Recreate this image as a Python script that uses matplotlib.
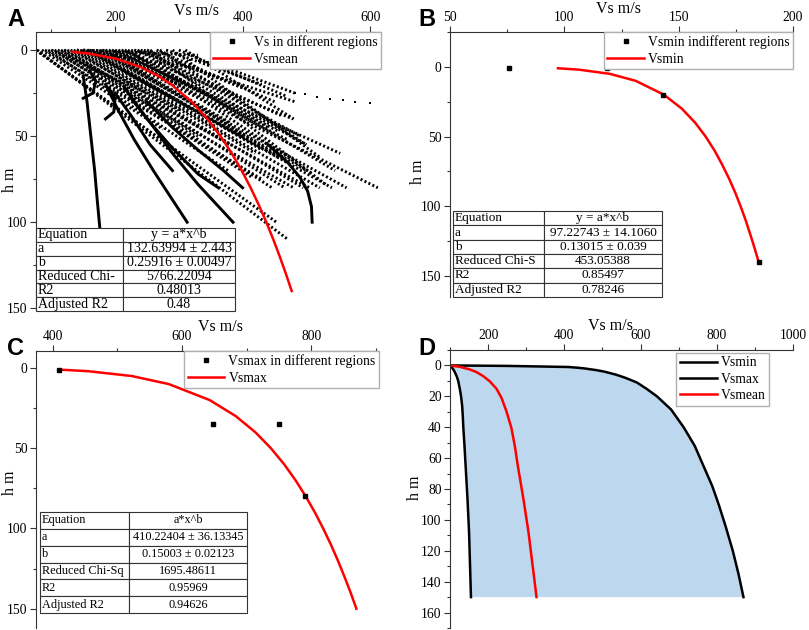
import matplotlib
matplotlib.use('Agg')
import matplotlib.pyplot as plt
from matplotlib.ticker import MultipleLocator
from matplotlib.lines import Line2D

# ---------------- data ----------------
# Panel A: Vs profiles in different regions (dotted profiles)
A_dot_v = [
    [76, 302], [76, 453], [78, 471], [85, 275], [95, 377], [105, 415],
    [115, 446], [125, 466], [135, 495], [145, 521], [155, 540], [170, 563],
    [180, 612], [195, 553], [210, 479], [230, 482], [120, 380], [140, 420],
    [160, 455], [175, 500], [190, 470], [205, 440], [220, 510], [240, 460],
    [255, 530], [270, 500], [150, 330], [130, 300], [100, 250], [140, 320],
    [357, 482], [150, 400], [165, 430], [185, 470], [200, 420], [215, 455],
    [235, 500], [250, 400], [265, 450], [280, 430], [300, 470], [160, 360],
    [180, 380], [120, 330], [200, 300], [290, 520], [310, 480],
    [100, 480], [110, 505], [90, 430], [225, 545], [245, 490]]
A_dot_h = [
    [0, 60], [0, 100], [0, 110], [0, 46], [0, 70], [0, 74],
    [0, 80], [0, 80], [0, 80], [0, 80], [0, 80], [0, 80],
    [0, 80], [0, 60], [0, 40], [0, 30], [0, 55], [0, 60],
    [0, 62], [0, 70], [0, 52], [0, 45], [0, 72], [0, 38],
    [0, 78], [0, 55], [0, 3], [0, 35], [0, 25], [0, 10],
    [8, 25], [0, 50], [0, 58], [0, 65], [0, 40], [0, 47],
    [0, 55], [0, 22], [0, 30], [0, 20], [0, 27], [0, 45],
    [0, 42], [0, 50], [2, 20], [0, 62], [0, 40],
    [0, 80], [0, 80], [0, 75], [0, 70], [0, 50]]
# sparse dotted series
A_sparse_v = [318, 331, 344, 357, 482, 498, 517, 537, 557, 576, 600]
A_sparse_h = [5.8, 6.5, 7.2, 8, 25, 25.6, 27.3, 28.5, 29, 30, 31]
# dense profiles that look like solid curves
A_sol_v = [[150, 156, 162, 168, 172, 176], [185, 205, 230, 260, 290, 313],
           [225, 255, 290, 330, 360, 385], [200, 225, 255, 290], [215, 250, 290, 330, 362],
           [440, 470, 490, 502, 508, 509], [250, 290, 330, 370, 400],
           [160, 170, 165, 150], [190, 200, 198, 185]]
A_sol_h = [[15, 30, 50, 70, 87, 103], [20, 35, 52, 70, 87, 100],
           [28, 42, 60, 78, 90, 100], [25, 38, 55, 70], [22, 40, 57, 72, 80],
           [55, 65, 74, 82, 91, 100], [30, 45, 58, 70, 80],
           [12, 18, 25, 28], [22, 28, 36, 40]]
# Vsmean fit
A_mean_h = [1, 2, 5, 10, 15, 20, 30, 40, 50, 60, 70, 80, 90, 100, 110, 120, 130, 140]
A_mean_v = [132.6, 158.7, 201.2, 240.8, 267.5, 288.2, 320.1, 344.8, 365.3, 383.0,
            398.6, 412.6, 425.4, 437.2, 448.1, 458.3, 467.9, 477.0]
A_table = [["Equation", "y = a*x^b"], ["a", "132.63994 ± 2.443"],
           ["b", "0.25916 ± 0.00497"], ["Reduced Chi-", "5766.22094"],
           ["R2", "0.48013"], ["Adjusted R2", "0.48"]]

# Panel B: Vsmin
B_pts_v = [76, 118.6, 143, 185]
B_pts_h = [1, 1, 20, 140]
B_fit_h = [1, 2, 5, 10, 20, 30, 40, 50, 60, 70, 80, 90, 100, 110, 120, 130, 140]
B_fit_v = [97.2, 106.4, 119.9, 131.2, 143.6, 151.4, 157.2, 161.8, 165.7, 169.0,
           172.0, 174.7, 177.1, 179.3, 181.3, 183.2, 185.0]
B_table = [["Equation", "y = a*x^b"], ["a", "97.22743 ± 14.1060"],
           ["b", "0.13015 ± 0.039"], ["Reduced Chi-S", "453.05388"],
           ["R2", "0.85497"], ["Adjusted R2", "0.78246"]]

# Panel C: Vsmax
C_pts_v = [410, 648, 750, 791]
C_pts_h = [1, 35, 35, 80]
C_fit_h = [1, 2, 5, 10, 20, 30, 40, 50, 60, 70, 80, 90, 100, 110, 120, 130, 140, 150]
C_fit_v = [410.2, 455.2, 522.3, 579.5, 643.0, 683.3, 713.5, 737.7, 758.2, 775.9,
           791.6, 805.8, 818.6, 830.5, 841.4, 851.5, 861.1, 870.0]
C_table = [["Equation", "a*x^b"], ["a", "410.22404 ± 36.13345"],
           ["b", "0.15003 ± 0.02123"], ["Reduced Chi-Sq", "1695.48611"],
           ["R2", "0.95969"], ["Adjusted R2", "0.94626"]]

# Panel D: envelope
D_min_h = [0, 1, 2.6, 4, 6.9, 10, 15.5, 20, 26.4, 33, 40.4, 52, 65, 87, 108, 150]
D_min_v = [100, 104, 108.7, 112, 117.4, 121.5, 126, 129, 132, 133.6, 135, 138, 141, 146, 150, 155]
D_max_h = [0, 0.3, 1, 1.5, 2, 3, 4, 6, 8, 11, 15, 20, 28.5, 40, 52, 65, 78, 90, 104, 120, 135, 150]
D_max_v = [100, 250, 410, 436, 455, 483, 505, 536, 560, 590, 615, 643, 680, 713, 742,
           765, 788, 805, 823, 842, 857, 870]
D_mean_h = [0, 0.9, 2.6, 4.3, 6.9, 10.2, 15.1, 20.9, 29.6, 40.4, 52, 65, 87, 108, 130, 150]
D_mean_v = [100, 126, 152, 169.6, 187, 204, 222, 235, 248, 261, 270, 278, 293, 306, 317, 327]

# ---------------- figure ----------------
W, H = 809, 630
plt.rcParams['font.family'] = ['Liberation Serif', 'DejaVu Serif']
fig = plt.figure(figsize=(W / 100, H / 100), dpi=100)


def box(l, t, r, b):
    return [l / W, 1 - b / H, (r - l) / W, (b - t) / H]


def style(ax, bx, xlim, ylim, xmaj, xmin, ymaj, ymin, xl, yl):
    ax.set_xlim(*xlim)
    ax.set_ylim(*ylim)
    ax.xaxis.tick_top()
    ax.xaxis.set_label_position('top')
    ax.spines['right'].set_visible(False)
    ax.spines['bottom'].set_visible(False)
    for s in ('top', 'left'):
        ax.spines[s].set_linewidth(0.8)
        ax.spines[s].set_color('#333333')
    ax.xaxis.set_major_locator(MultipleLocator(xmaj))
    ax.xaxis.set_minor_locator(MultipleLocator(xmin))
    ax.yaxis.set_major_locator(MultipleLocator(ymaj))
    ax.yaxis.set_minor_locator(MultipleLocator(ymin))
    ax.tick_params(which='major', direction='out', length=4, width=0.8,
                   labelsize=9.8, pad=2, color='#333333')
    ax.tick_params(which='minor', direction='out', length=2.5, width=0.8, color='#333333')
    ax.set_xlabel('Vs m/s', fontsize=11.5)
    ax.set_ylabel('h m', fontsize=11.5)
    l, t, r, b = bx
    ax.xaxis.set_label_coords((xl[0] - l) / (r - l), (b - xl[1]) / (b - t))
    ax.xaxis.label.set_verticalalignment('center')
    ax.yaxis.set_label_coords((yl[0] - l) / (r - l), (b - yl[1]) / (b - t))
    ax.yaxis.label.set_verticalalignment('center')


def add_table(l, t, r, b, split, rows, fs):
    tax = fig.add_axes(box(l, t, r, b))
    tax.axis('off')
    frac = (split - l) / (r - l)
    tbl = tax.table(cellText=rows, bbox=[0, 0, 1, 1], colWidths=[frac, 1 - frac],
                    cellLoc='center')
    tbl.auto_set_font_size(False)
    tbl.set_fontsize(fs)
    for (ri, ci), cell in tbl.get_celld().items():
        cell.set_linewidth(0.8)
        cell.set_edgecolor('#333333')
        cell.PAD = 0.02
        if ci == 0:
            cell._loc = 'left'
            cell.get_text().set_horizontalalignment('left')


def legend(ax, handles, labels, anchor):
    ax.legend(handles, labels, loc='upper right', bbox_to_anchor=anchor,
              borderaxespad=0, fancybox=False, framealpha=1, edgecolor='#b0b0b0',
              fontsize=9.8, handlelength=2.7, handletextpad=0.3, borderpad=0.25,
              labelspacing=0.25)


dot_handle = Line2D([], [], marker='s', ms=2.5, ls='none', color='k')

# ---- Panel A ----
bA = (36, 32, 381, 310)
axA = fig.add_axes(box(*bA))
for v, h in zip(A_dot_v, A_dot_h):
    axA.plot(v, h, color='k', lw=2.1, ls=(0, (0.7, 0.8)))
axA.plot(A_sparse_v, A_sparse_h, ls='none', marker='s', ms=1.6, mew=0, color='k')
for v, h in zip(A_sol_v, A_sol_h):
    axA.plot(v, h, color='k', lw=2.1)
axA.plot(A_mean_v, A_mean_h, color='red', lw=1.8)
style(axA, bA, (76, 617), (151, -10.5), 200, 100, 50, 25, (197, 11), (10, 180))
legend(axA, [dot_handle, Line2D([], [], color='red', lw=1.8)],
       ['Vs in different regions', 'Vsmean'], (1, 1))
add_table(36, 228, 235, 311, 123, A_table, 10)

# ---- Panel B ----
bB = (450, 32, 793, 297)
axB = fig.add_axes(box(*bB))
axB.plot(B_fit_v, B_fit_h, color='red', lw=1.8)
axB.plot(B_pts_v, B_pts_h, ls='none', marker='s', ms=2.5, color='k')
style(axB, bB, (50, 200), (165, -25), 50, 25, 50, 25, (618, 9), (418, 172))
legend(axB, [dot_handle, Line2D([], [], color='red', lw=1.8)],
       ['Vsmin indifferent regions', 'Vsmin'], (1, 1))
add_table(453, 211, 662, 297, 544, B_table, 9.5)

# ---- Panel C ----
bC = (36, 351, 379, 628)
axC = fig.add_axes(box(*bC))
axC.plot(C_fit_v, C_fit_h, color='red', lw=1.8)
axC.plot(C_pts_v, C_pts_h, ls='none', marker='s', ms=3.5, color='k')
style(axC, bC, (374, 905), (162, -10.6), 200, 100, 50, 25, (221, 327), (10, 483))
legend(axC, [Line2D([], [], marker='s', ms=3.5, ls='none', color='k'),
             Line2D([], [], color='red', lw=1.8)],
       ['Vsmax in different regions', 'Vsmax'], (1, 1))
add_table(40, 512, 247, 613, 129, C_table, 8.8)

# ---- Panel D ----
bD = (450, 350, 793, 628)
axD = fig.add_axes(box(*bD))
axD.fill(D_min_v + D_max_v[::-1], D_min_h + D_max_h[::-1], color='#bdd7ee', lw=0)
axD.plot(D_min_v, D_min_h, color='k', lw=1.8)
axD.plot(D_max_v, D_max_h, color='k', lw=1.8)
axD.plot(D_mean_v, D_mean_h, color='red', lw=1.8)
style(axD, bD, (100, 1000), (170, -10), 200, 100, 20, 10, (610, 326), (415, 488))
legend(axD, [Line2D([], [], color='k', lw=1.8), Line2D([], [], color='k', lw=1.8),
             Line2D([], [], color='red', lw=1.8)],
       ['Vsmin', 'Vsmax', 'Vsmean'], ((769 - 450) / 343, 1 - 3 / 278))

# panel letters
for lab, x, y in [('A', 7, 8), ('B', 418, 8), ('C', 7, 337), ('D', 418, 337)]:
    fig.text(x / W, 1 - y / H, lab, ha='left', va='top', fontsize=17,
             fontweight='bold', family='Liberation Sans')

fig.savefig('out.png', dpi=100)
